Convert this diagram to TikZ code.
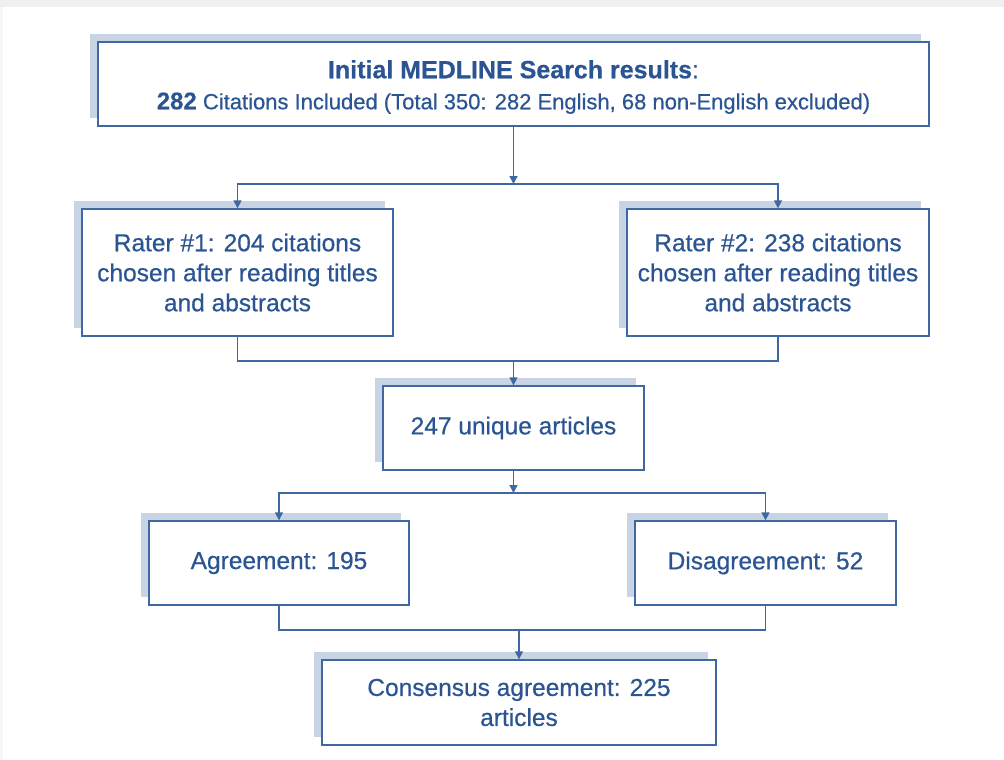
\documentclass[tikz,border=0pt]{standalone}
\usepackage{fontspec}
\setmainfont{Liberation Sans}[FakeBold=0.5]
\usetikzlibrary{arrows.meta,shadows}
\definecolor{txtblue}{HTML}{2B5592}
\definecolor{lineblue}{HTML}{3F67A2}
\definecolor{shadowblue}{HTML}{C8D4E4}
\begin{document}
\begin{tikzpicture}[x=1pt,y=-1pt,
  box/.style={draw=lineblue, line width=1.4pt, fill=white, text=txtblue, align=center, inner sep=0pt,
    general shadow={fill=shadowblue, shadow xshift=-8pt, shadow yshift=8pt}},
  conn/.style={draw=lineblue, line width=1.5pt},
  arr/.style={conn, -{Triangle[width=8pt,length=8pt]}},
  font=\fontsize{24.5}{30}\selectfont]
\useasboundingbox (0,0) rectangle (1004,760);
\fill[gray!12] (0,0) rectangle (1004,7);
\fill[gray!7] (0,7) rectangle (3,760);

\node[box, minimum width=831pt, minimum height=84pt] (top) at (513.5,84) {};
\node[text=txtblue, align=center, inner sep=0pt, font=\fontsize{22}{31}\selectfont] (toptext) at (513.5,87)
  {{\fontsize{25}{31}\selectfont\bfseries Initial MEDLINE Search results}{\fontsize{25}{31}\selectfont :}\\
   {\fontsize{24}{31}\selectfont\bfseries 282} Citations Included (Total 350: 282 English, 68 non-English excluded)};

\node[box, minimum width=311pt, minimum height=127pt] (r1) at (237.5,272.5)
  {Rater \#1: 204 citations\\chosen after reading titles\\and abstracts};
\node[box, minimum width=302pt, minimum height=127pt] (r2) at (778,272.5)
  {Rater \#2: 238 citations\\chosen after reading titles\\and abstracts};

\node[box, minimum width=261pt, minimum height=84pt] (u) at (513.5,428) {247 unique articles};

\node[box, minimum width=260pt, minimum height=84pt] (ag) at (279,563) {Agreement: 195};
\node[box, minimum width=261pt, minimum height=84pt] (dis) at (765.5,563) {Disagreement: 52};

\node[box, minimum width=394pt, minimum height=85pt] (cons) at (519,702.5)
  {Consensus agreement: 225\\articles};

\coordinate (j1) at (513.5,184);
\coordinate (j2) at (513.5,361);
\coordinate (j3) at (513.5,493);
\coordinate (j4) at (519,630);

\draw[arr] (top.south) -- (j1);
\draw[arr] (j1) -| (r1.north);
\draw[arr] (j1) -| (r2.north);

\draw[conn] (r1.south) |- (j2);
\draw[conn] (r2.south) |- (j2);
\draw[arr] (j2) -- (u.north);

\draw[arr] (u.south) -- (j3);
\draw[arr] (j3) -| (ag.north);
\draw[arr] (j3) -| (dis.north);

\draw[conn] (ag.south) |- (j4);
\draw[conn] (dis.south) |- (j4);
\draw[arr] (j4) -- (cons.north);
\end{tikzpicture}
\end{document}
